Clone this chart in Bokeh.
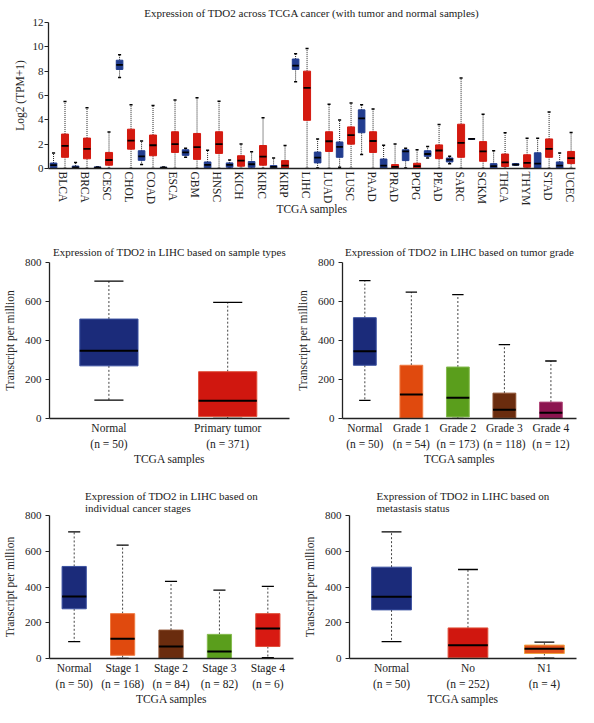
import numpy as np
from bokeh.plotting import figure
from bokeh.models import ColumnDataSource, FixedTicker, Range1d
from bokeh.layouts import column, row
from bokeh.embed import file_html
from bokeh.resources import INLINE

FONT = "Liberation Serif"

# ---------------- Panel A data (log2(TPM+1)) ----------------
cancers = ["BLCA", "BRCA", "CESC", "CHOL", "COAD", "ESCA", "GBM", "HNSC", "KICH", "KIRC", "KIRP", "LIHC",
           "LUAD", "LUSC", "PAAD", "PRAD", "PCPG", "PEAD", "SARC", "SCKM", "THCA", "THYM", "STAD", "UCEC"]
normal_min = [0, 0, 0.03, 7.47, 0.32, 0.02, 0.92, 0, 0.05, 0, 0, 7.12,
              0.05, 0.1, 1.16, 0, 0.05, 0.86, 0.4, 2.43, 0, 0.27, 0, 0]
normal_q1 = [0.05, 0.03, 0.05, 8.14, 0.67, 0.03, 1.08, 0.05, 0.1, 0.1, 0.03, 8.14,
             0.46, 0.92, 2.94, 0.03, 0.65, 1.0, 0.54, 2.41, 0.03, 0.27, 0.03, 0.03]
normal_med = [0.27, 0.1, 0.08, 8.52, 1.0, 0.06, 1.32, 0.3, 0.3, 0.35, 0.13, 8.46,
              0.89, 1.78, 4.12, 0.24, 1.4, 1.19, 0.73, 2.43, 0.19, 0.32, 0.4, 0.24]
normal_q3 = [0.45, 0.2, 0.13, 8.9, 1.46, 0.1, 1.54, 0.54, 0.46, 0.57, 0.24, 9.0,
             1.35, 2.18, 4.82, 0.78, 1.54, 1.46, 0.86, 2.45, 0.4, 0.4, 1.29, 0.54]
normal_max = [1.27, 0.5, 0.15, 9.35, 2.26, 0.12, 1.67, 1.5, 0.7, 1.37, 0.86, 9.43,
              2.43, 3.99, 5.23, 1.91, 1.67, 1.81, 1.0, 2.43, 1.46, 0.4, 2.48, 1.27]
tumor_min = [0] * 24
tumor_q1 = [0.92, 0.8, 0.27, 1.59, 1.05, 1.32, 0.75, 1.24, 0.19, 0.27, 0.03, 3.96,
            1.4, 2.0, 1.32, 0.03, 0.03, 0.81, 0.92, 0.59, 0.16, 0.1, 0.92, 0.4]
tumor_med = [1.86, 1.62, 0.7, 2.29, 1.91, 2.0, 1.75, 2.0, 0.65, 0.97, 0.24, 6.63,
             2.24, 2.75, 2.26, 0.13, 0.19, 1.48, 2.1, 1.4, 0.51, 0.46, 1.62, 0.86]
tumor_q3 = [2.83, 2.5, 1.32, 3.23, 2.75, 3.02, 2.88, 3.02, 1.05, 1.89, 0.65, 8.0,
            3.02, 3.42, 3.02, 0.32, 0.43, 1.94, 3.64, 2.21, 1.19, 1.13, 2.43, 1.4]
tumor_max = [5.5, 5.0, 3.0, 5.23, 5.17, 5.63, 5.82, 5.53, 2.02, 4.18, 1.89, 9.87,
             5.28, 5.39, 4.9, 2.02, 1.54, 3.61, 7.44, 4.45, 2.94, 2.48, 4.64, 2.96]
a_yticks = [0, 2, 4, 6, 8, 10, 12]

# ---------------- Panel B data (TPM) ----------------
b_groups = ["Normal", "Primary tumor"]
b_n = [50, 371]
b_min = [94, 0]
b_q1 = [270, 10]
b_med = [348, 91]
b_q3 = [510, 240]
b_max = [704, 596]

# ---------------- Panel C data ----------------
c_groups = ["Normal", "Grade 1", "Grade 2", "Grade 3", "Grade 4"]
c_n = [50, 54, 173, 118, 12]
c_min = [93, 0, 0, 0, 0]
c_q1 = [273, 2, 8, 3, 1]
c_med = [345, 123, 106, 45, 30]
c_q3 = [517, 273, 264, 130, 84]
c_max = [707, 648, 635, 379, 295]

# ---------------- Panel D data ----------------
d_groups = ["Normal", "Stage 1", "Stage 2", "Stage 3", "Stage 4"]
d_n = [50, 168, 84, 82, 6]
d_min = [94, 0, 0, 0, 5]
d_q1 = [278, 18, 1, 1, 67]
d_med = [347, 111, 67, 39, 168]
d_q3 = [515, 251, 159, 135, 251]
d_max = [708, 634, 431, 382, 403]

# ---------------- Panel E data ----------------
e_groups = ["Normal", "No", "N1"]
e_n = [50, 252, 4]
e_min = [94, 0, 2]
e_q1 = [272, 5, 28]
e_med = [346, 74, 55]
e_q3 = [511, 171, 75]
e_max = [708, 498, 92]
tpm_ticks = [0, 200, 400, 600, 800]

NAVY = "#1b2b7a"
NAVY_L = "#3a50a0"
RED = "#d0170f"
RED_L = "#e0503a"
ORANGE = "#e04a0e"
ORANGE_L = "#ee7a40"
GREEN = "#5a9e1c"
GREEN_L = "#86bb50"
BROWN = "#6a2c0e"
BROWN_L = "#8c5030"
MAROON = "#8c1550"
MAROON_L = "#b04a7a"
A_BLUE = "#223d8f"
A_RED = "#d41a10"
TXT = "#222222"


def make_fig(w, h, xr, yr, left, right, top, bottom):
    p = figure(width=w, height=h, x_range=Range1d(*xr), y_range=Range1d(*yr),
               output_backend="svg", toolbar_location=None,
               min_border_left=left, min_border_right=right,
               min_border_top=top, min_border_bottom=bottom)
    p.xgrid.visible = False
    p.ygrid.visible = False
    p.outline_line_color = None
    p.title.align = "center"
    p.title.text_font = FONT
    p.title.text_font_size = "11px"
    p.title.text_font_style = "normal"
    p.title.text_color = TXT
    for ax in (p.xaxis[0], p.yaxis[0]):
        ax.axis_line_color = TXT
        ax.axis_line_width = 1.3
        ax.major_label_text_font = FONT
        ax.major_label_text_font_size = "11px"
        ax.major_label_text_color = TXT
        ax.axis_label_text_font = FONT
        ax.axis_label_text_font_size = "11.5px"
        ax.axis_label_text_font_style = "normal"
        ax.axis_label_text_color = TXT
        ax.minor_tick_line_color = None
    p.yaxis.major_tick_out = 4
    p.yaxis.major_tick_in = 0
    p.yaxis.major_tick_line_color = TXT
    p.yaxis.major_label_standoff = 4
    p.yaxis.axis_label_standoff = 6
    p.xaxis.major_tick_line_color = None
    p.xaxis.major_tick_out = 0
    p.xaxis.major_tick_in = 0
    return p


def draw_boxes(p, xs, mins, q1, med, q3, mx, fills, lines, w, capw, med_w=2.0,
               dash="2 2", wcolor="#444444", cap_w=1.3):
    xs = np.asarray(xs, dtype=float)
    src = ColumnDataSource(dict(x=xs, lo=q1, hi=q3, mn=mins, mx=mx, med=med,
                                fill=fills, line=lines,
                                xl=xs - w / 2, xr=xs + w / 2,
                                cl=xs - capw / 2, cr=xs + capw / 2))
    p.segment(x0="x", y0="hi", x1="x", y1="mx", source=src, line_color=wcolor,
              line_dash=dash, line_width=1)
    p.segment(x0="x", y0="lo", x1="x", y1="mn", source=src, line_color=wcolor,
              line_dash=dash, line_width=1)
    p.segment(x0="cl", y0="mx", x1="cr", y1="mx", source=src, line_color="black", line_width=cap_w)
    p.segment(x0="cl", y0="mn", x1="cr", y1="mn", source=src, line_color="black", line_width=cap_w)
    p.vbar(x="x", width=w, bottom="lo", top="hi", source=src, fill_color="fill",
           line_color="line", line_width=1)
    p.segment(x0="xl", y0="med", x1="xr", y1="med", source=src, line_color="black", line_width=med_w)


# ---------------- Panel A ----------------
nA = len(cancers)
pA = make_fig(578, 218, (-0.68, 23.27), (0, 12), 48, 3, 20, 50)
pA.title.text = "Expression of TDO2 across TCGA cancer (with tumor and normal samples)"
pA.title.standoff = 8
idx = np.arange(nA)
draw_boxes(pA, idx - 0.45, normal_min, normal_q1, normal_med, normal_q3, normal_max,
           [A_BLUE] * nA, [A_BLUE] * nA, 0.3, 0.14, med_w=1.8, dash="1 1", wcolor=TXT, cap_w=1.5)
draw_boxes(pA, idx + 0.07, tumor_min, tumor_q1, tumor_med, tumor_q3, tumor_max,
           [A_RED] * nA, [A_RED] * nA, 0.32, 0.14, med_w=1.8, dash="1 1", wcolor=TXT, cap_w=1.5)
pA.xaxis.ticker = FixedTicker(ticks=list(range(nA)))
pA.xaxis.major_label_overrides = {i: c for i, c in enumerate(cancers)}
pA.xaxis.major_label_orientation = "vertical"
pA.xaxis.major_label_standoff = 3
pA.xaxis.major_label_text_font_size = "11.5px"
pA.xaxis.axis_label = "TCGA samples"
pA.xaxis.axis_label_standoff = -5
pA.yaxis.ticker = FixedTicker(ticks=a_yticks)
pA.yaxis.axis_label = "Log2 (TPM+1)"
pA.yaxis.major_label_standoff = 1
pA.yaxis.axis_label_standoff = 4


def tpm_panel(w, h, xr, yr, left, right, top, bottom, title, groups, ns, mins, q1, med, q3, mx,
              fills, lines, bw, standoff):
    p = make_fig(w, h, xr, yr, left, right, top, bottom)
    p.title.text = title
    p.title.standoff = standoff
    n = len(groups)
    draw_boxes(p, np.arange(n), mins, q1, med, q3, mx, fills, lines, bw, bw / 2)
    p.xaxis.ticker = FixedTicker(ticks=list(range(n)))
    p.xaxis.major_label_overrides = {i: f"{g}\n(n = {k})" for i, (g, k) in enumerate(zip(groups, ns))}
    p.xaxis.major_label_standoff = 3
    p.xaxis.major_label_text_font_size = "11.5px"
    p.xaxis.major_label_text_line_height = 1.35
    p.xaxis.axis_label = "TCGA samples"
    p.xaxis.axis_label_standoff = 0
    p.yaxis.ticker = FixedTicker(ticks=tpm_ticks)
    p.yaxis.axis_label = "Transcript per million"
    return p


pB = tpm_panel(292, 249, (-0.5, 1.52), (0, 800), 47, 3, 44, 49,
               "Expression of TDO2 in LIHC based on sample types",
               b_groups, b_n, b_min, b_q1, b_med, b_q3, b_max,
               [NAVY, RED], [NAVY_L, RED_L], 0.49, 10)
pC = tpm_panel(286, 249, (-0.48, 4.55), (0, 800), 50, 2, 44, 49,
               "Expression of TDO2 in LIHC based on tumor grade",
               c_groups, c_n, c_min, c_q1, c_med, c_q3, c_max,
               [NAVY, ORANGE, GREEN, BROWN, MAROON], [NAVY_L, ORANGE_L, GREEN_L, BROWN_L, MAROON_L],
               0.49, 10)
pD = tpm_panel(296, 240, (-0.51, 4.53), (0, 800), 47, 3, 48, 49,
               "Expression of TDO2 in LIHC based on\nindividual cancer stages",
               d_groups, d_n, d_min, d_q1, d_med, d_q3, d_max,
               [NAVY, ORANGE, BROWN, GREEN, "#d81a12"], [NAVY_L, ORANGE_L, BROWN_L, GREEN_L, RED_L],
               0.5, 3)
pE = tpm_panel(282, 240, (-0.55, 2.42), (0, 800), 53, 2, 48, 49,
               "Expression of TDO2 in LIHC based on\nmetastasis status",
               e_groups, e_n, e_min, e_q1, e_med, e_q3, e_max,
               [NAVY, RED, "#e0501a"], [NAVY_L, RED_L, "#f0a040"], 0.52, 3)

layout = column(pA, row(pB, pC), row(pD, pE))
open("out.html", "w").write(file_html(layout, INLINE))
